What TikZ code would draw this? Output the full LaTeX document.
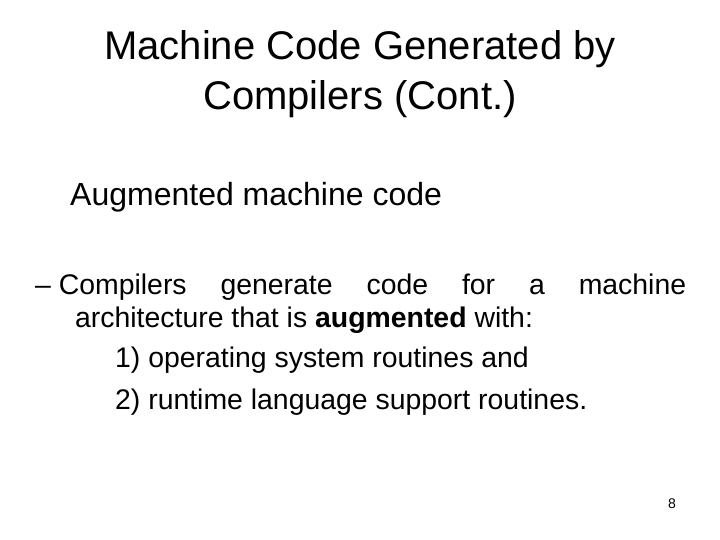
\documentclass[tikz,border=0pt]{standalone}
\usepackage{fontspec}
\setmainfont{Liberation Sans}
\begin{document}
\begin{tikzpicture}[x=1pt,y=-1pt,
  txt/.style={inner sep=0pt,anchor=base west},
  body/.style={txt,font=\fontsize{28.4}{32}\selectfont},
  ttl/.style={inner sep=0pt,anchor=base,font=\fontsize{40}{44}\selectfont}]
\useasboundingbox[fill=white] (0,0) rectangle (720,540);
\node[ttl] (t1) at (360,60) {Machine Code Generated by};
\node[ttl] (t2) at (360,110) {Compilers (Cont.)};
\node[txt,font=\fontsize{32}{36}\selectfont] (h) at (70,206) {Augmented machine code};
\node[body] (l1) at (35,294) {\hbox to 651pt{– Compilers\hfill generate\hfill code\hfill for\hfill a\hfill machine}};
\node[body] (l2) at (75,327) {architecture that is \textbf{augmented} with:};
\node[body] (l3) at (115,367) {1) operating system routines and};
\node[body] (l4) at (115,409) {2) runtime language support routines.};
\node[txt,font=\fontsize{14}{16}\selectfont] (n) at (668,508) {8};
\end{tikzpicture}
\end{document}
